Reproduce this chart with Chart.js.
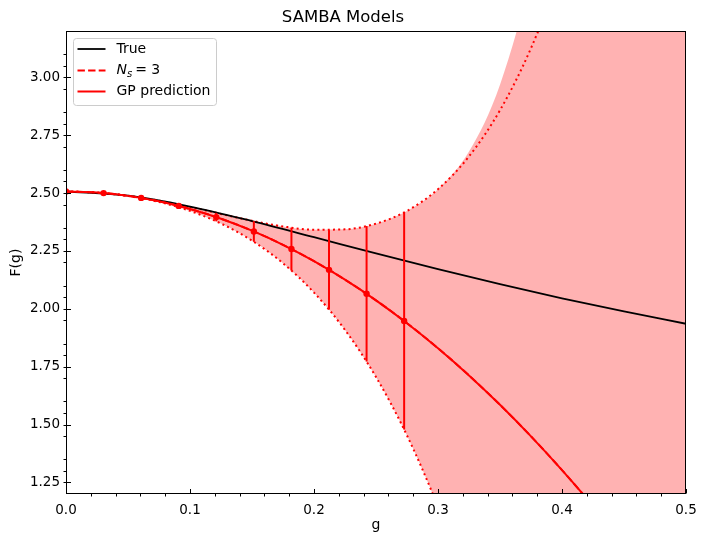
<!DOCTYPE html>
<html>
<head>
<meta charset="utf-8">
<script src="https://cdn.jsdelivr.net/npm/chart.js@4.4.1/dist/chart.umd.min.js"></script>
<style>
    html, body { margin: 0; padding: 0; background: #fff; }
</style>
</head>
<body>
<canvas id="sambaChart" width="706" height="541"></canvas>
<script>
// Eksen etiketleri
const xTicks = [0.0, 0.1, 0.2, 0.3, 0.4, 0.5];
const yTicks = [1.25, 1.50, 1.75, 2.00, 2.25, 2.50, 2.75, 3.00];

// Gerçek F(g) eğrisi
const trueG = [0, 0.05, 0.1, 0.15, 0.2, 0.25, 0.3, 0.35, 0.4, 0.45, 0.5];
const trueF = [2.5066, 2.4886, 2.4418, 2.3787, 2.3093, 2.2391, 2.1711, 2.1066, 2.0455, 1.9888, 1.9353];

// GP tahmini ve Ns=3 serisi (aynı ızgara)
const gGrid = [0, 0.025, 0.05, 0.075, 0.1, 0.125, 0.15, 0.175, 0.2, 0.225, 0.25,
               0.275, 0.3, 0.325, 0.35, 0.375, 0.4, 0.425, 0.45, 0.475, 0.5];
const gpMean = [2.5066, 2.5019, 2.4878, 2.4643, 2.4314, 2.3891, 2.3374, 2.2763, 2.2058, 2.1259, 2.0366,
                1.9379, 1.8298, 1.7123, 1.5854, 1.4491, 1.3034, 1.1483, 0.9838, 0.8099, 0.6267];
const seriesNs3 = [2.5066, 2.5019, 2.4878, 2.4643, 2.4314, 2.3891, 2.3374, 2.2763, 2.2058, 2.1259, 2.0366,
                   1.9379, 1.8298, 1.7123, 1.5854, 1.4491, 1.3034, 1.1483, 0.9838, 0.8099, 0.6267];
const bandUpper = [2.5066, 2.5019, 2.4883, 2.4670, 2.4399, 2.4098, 2.3803, 2.3558, 2.3415, 2.3432, 2.3679,
                   2.4229, 2.5167, 2.6584, 2.8579, 3.1260, 3.4743, 3.9149, 4.4611, 5.1268, 5.9267];
const bandLower = [2.5066, 2.5019, 2.4873, 2.4616, 2.4229, 2.3684, 2.2945, 2.1968, 2.0701, 1.9086, 1.7053,
                   1.4529, 1.1429, 0.7662, 0.3129, -0.2278, -0.8675, -1.6183, -2.4935, -3.5070, -4.6733];
const fillUpper = [2.5066, 2.5019, 2.4883, 2.4670, 2.4399, 2.4098, 2.3803, 2.3558, 2.3415, 2.3432, 2.3679,
                   2.4229, 2.5167, 2.6790, 2.9683, 3.4533, 4.2276, 5.4140, 7.1800, 9.7000, 13.2800];

// Hata çubuklu noktalar
const ptG = [0, 0.0303, 0.0606, 0.0909, 0.1212, 0.1515, 0.1818, 0.2121, 0.2424, 0.2727];
const ptF = [2.5066, 2.4997, 2.4790, 2.4445, 2.3961, 2.3340, 2.2581, 2.1683, 2.0648, 1.9474];
const ptErr = [0, 0.0001, 0.0011, 0.0058, 0.0183, 0.0447, 0.0927, 0.1716, 0.2926, 0.4689];

const FONT = 'DejaVu Sans';
Chart.defaults.font.family = FONT;
Chart.defaults.color = '#000';

function xy(xs, ys) {
    return xs.map((x, i) => ({ x: x, y: ys[i] }));
}

// Hata çubukları
const errorBars = {
    id: 'errorBars',
    afterDatasetsDraw(chart) {
        const { ctx, chartArea: a, scales: { x, y } } = chart;
        ctx.save();
        ctx.beginPath();
        ctx.rect(a.left, a.top, a.width, a.height);
        ctx.clip();
        ctx.strokeStyle = '#ff0000';
        ctx.lineWidth = 2;
        ptG.forEach((g, i) => {
            if (!ptErr[i]) return;
            const px = x.getPixelForValue(g);
            ctx.beginPath();
            ctx.moveTo(px, y.getPixelForValue(ptF[i] + ptErr[i]));
            ctx.lineTo(px, y.getPixelForValue(ptF[i] - ptErr[i]));
            ctx.stroke();
        });
        ctx.restore();
    }
};

// Çerçeve ve tik işaretleri
const axesFrame = {
    id: 'axesFrame',
    afterDatasetsDraw(chart) {
        const { ctx, chartArea: a, scales: { x, y } } = chart;
        ctx.save();
        ctx.strokeStyle = '#000';
        ctx.lineWidth = 1;
        const L = Math.round(a.left) + 0.5, R = Math.round(a.right) - 0.5;
        const T = Math.round(a.top) + 0.5, B = Math.round(a.bottom) - 0.5;
        ctx.strokeRect(L, T, R - L, B - T);

        ctx.beginPath();
        xTicks.forEach(v => {
            const px = Math.round(x.getPixelForValue(v)) + 0.5;
            ctx.moveTo(px, B); ctx.lineTo(px, B - 4.5);
        });
        yTicks.forEach(v => {
            const py = Math.round(y.getPixelForValue(v)) + 0.5;
            ctx.moveTo(L, py); ctx.lineTo(L + 4.5, py);
        });
        // ara tikler dışarı doğru
        for (let k = 1; k < 25; k++) {
            if (k % 5 === 0) continue;
            const px = Math.round(x.getPixelForValue(k * 0.02)) + 0.5;
            ctx.moveTo(px, B); ctx.lineTo(px, B + 3);
        }
        for (let k = 1; k < 40; k++) {
            if ((k + 1) % 5 === 0) continue;
            const py = Math.round(y.getPixelForValue(1.2 + k * 0.05)) + 0.5;
            ctx.moveTo(L, py); ctx.lineTo(L - 3, py);
        }
        ctx.stroke();
        ctx.restore();
    }
};

// Grafik içi lejant kutusu
const boxLegend = {
    id: 'boxLegend',
    afterDraw(chart) {
        const { ctx, chartArea: a } = chart;
        const bx = a.left + 7.5, by = a.top + 7.5, bw = 143, bh = 67;
        ctx.save();
        ctx.fillStyle = 'rgba(255,255,255,0.8)';
        ctx.strokeStyle = '#cccccc';
        ctx.lineWidth = 1;
        ctx.beginPath();
        ctx.roundRect(bx, by, bw, bh, 3);
        ctx.fill();
        ctx.stroke();

        const rows = [by + 10.5, by + 32, by + 53];
        const x0 = bx + 4, x1 = bx + 32, tx = bx + 43;

        ctx.lineWidth = 1.8;
        ctx.strokeStyle = '#000';
        ctx.beginPath(); ctx.moveTo(x0, rows[0]); ctx.lineTo(x1, rows[0]); ctx.stroke();

        ctx.lineWidth = 2;
        ctx.strokeStyle = '#ff0000';
        ctx.setLineDash([7.4, 3.2]);
        ctx.beginPath(); ctx.moveTo(x0, rows[1]); ctx.lineTo(x1, rows[1]); ctx.stroke();
        ctx.setLineDash([]);
        ctx.beginPath(); ctx.moveTo(x0, rows[2]); ctx.lineTo(x1, rows[2]); ctx.stroke();

        ctx.fillStyle = '#000';
        ctx.textBaseline = 'middle';
        ctx.textAlign = 'left';
        ctx.font = '14px "DejaVu Sans"';
        ctx.fillText('True', tx, rows[0]);
        ctx.fillText('GP prediction', tx, rows[2]);

        ctx.font = 'italic 14px "DejaVu Sans"';
        ctx.fillText('N', tx, rows[1]);
        let cx = tx + ctx.measureText('N').width;
        ctx.font = 'italic 10px "DejaVu Sans"';
        ctx.fillText('s', cx, rows[1] + 3.5);
        cx += ctx.measureText('s').width + 3;
        ctx.font = '14px "DejaVu Sans"';
        ctx.fillText('= 3', cx, rows[1]);
        ctx.restore();
    }
};

const ctx = document.getElementById('sambaChart').getContext('2d');

new Chart(ctx, {
    type: 'line',
    data: {
        datasets: [
            {
                label: 'points',
                data: xy(ptG, ptF),
                showLine: false,
                pointRadius: 3.2,
                pointBackgroundColor: '#ff0000',
                pointBorderWidth: 0,
                clip: 0
            },
            {
                label: 'GP prediction',
                data: xy(gGrid, gpMean),
                borderColor: '#ff0000',
                borderWidth: 2,
                pointRadius: 0,
                cubicInterpolationMode: 'monotone',
                clip: 0
            },
            {
                label: 'Ns = 3',
                data: xy(gGrid, seriesNs3),
                borderColor: '#ff0000',
                borderWidth: 2,
                borderDash: [7.4, 3.2],
                pointRadius: 0,
                cubicInterpolationMode: 'monotone',
                clip: 0
            },
            {
                label: 'True',
                data: xy(trueG, trueF),
                borderColor: '#000000',
                borderWidth: 1.8,
                pointRadius: 0,
                cubicInterpolationMode: 'monotone',
                clip: 0
            },
            {
                label: 'upper',
                data: xy(gGrid, bandUpper),
                borderColor: '#ff0000',
                borderWidth: 2,
                borderDash: [2, 3.2],
                pointRadius: 0,
                cubicInterpolationMode: 'monotone',
                clip: 0
            },
            {
                label: 'lower',
                data: xy(gGrid, bandLower),
                borderColor: '#ff0000',
                borderWidth: 2,
                borderDash: [2, 3.2],
                pointRadius: 0,
                cubicInterpolationMode: 'monotone',
                clip: 0
            },
            {
                label: 'band',
                data: xy(gGrid, fillUpper),
                borderWidth: 0,
                borderColor: 'rgba(0,0,0,0)',
                backgroundColor: 'rgba(255,0,0,0.3)',
                fill: '-1',
                pointRadius: 0,
                cubicInterpolationMode: 'monotone',
                clip: 0
            }
        ]
    },
    options: {
        responsive: false,
        animation: false,
        events: [],
        layout: { padding: { left: 0, right: 20, top: 0, bottom: 0 } },
        plugins: {
            legend: { display: false },
            tooltip: { enabled: false },
            title: {
                display: true,
                text: 'SAMBA Models',
                font: { size: 16.5, weight: 'normal' },
                color: '#000',
                padding: { top: 8, bottom: 3.2 }
            }
        },
        scales: {
            x: {
                type: 'linear',
                min: 0,
                max: 0.5,
                afterBuildTicks: s => { s.ticks = xTicks.map(v => ({ value: v })); },
                afterFit: s => { s.height = 47; },
                grid: { display: false, drawTicks: false },
                border: { display: false },
                ticks: {
                    autoSkip: false,
                    maxRotation: 0,
                    padding: 8,
                    font: { size: 13.5 },
                    color: '#000',
                    callback: v => Number(v).toFixed(1)
                },
                title: {
                    display: true,
                    text: 'g',
                    font: { size: 14 },
                    color: '#000',
                    padding: { top: 0, bottom: 7 }
                }
            },
            y: {
                type: 'linear',
                min: 1.2,
                max: 3.2,
                afterBuildTicks: s => { s.ticks = yTicks.map(v => ({ value: v })); },
                afterFit: s => { s.width = 66; },
                grid: { display: false, drawTicks: false },
                border: { display: false },
                ticks: {
                    autoSkip: false,
                    padding: 6,
                    font: { size: 13.5 },
                    color: '#000',
                    callback: v => Number(v).toFixed(2)
                },
                title: {
                    display: true,
                    text: 'F(g)',
                    font: { size: 14 },
                    color: '#000',
                    padding: { top: 8, bottom: 0 }
                }
            }
        }
    },
    plugins: [errorBars, axesFrame, boxLegend]
});
</script>
</body>
</html>
